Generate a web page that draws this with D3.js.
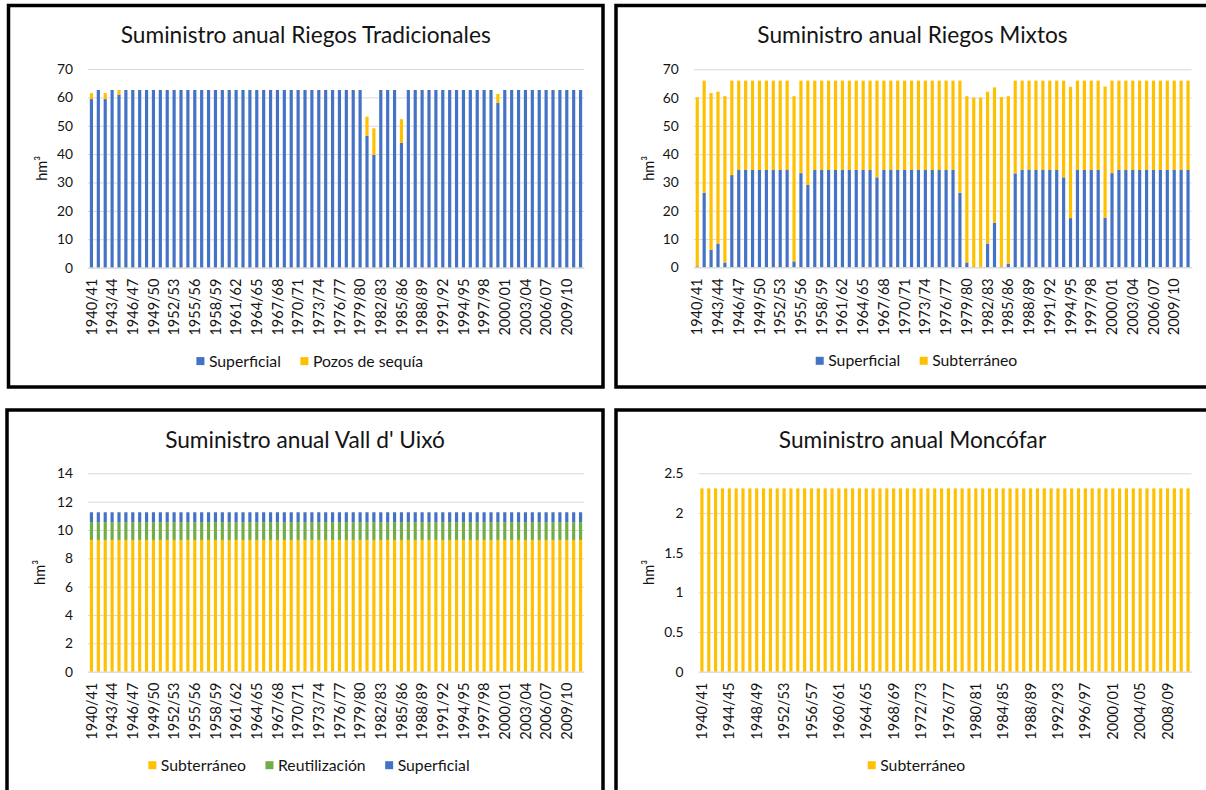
<!DOCTYPE html>
<html>
<head>
<meta charset="utf-8">
<script src="https://cdn.jsdelivr.net/npm/d3@7"></script>
<style>
  body { margin: 0; background: #fff; }
  svg { display: block; }
</style>
</head>
<body>
<svg id="chart" width="1206" height="790"></svg>
<script>
// Hydrological years shown on every chart
const years = [
  "1940/41","1941/42","1942/43","1943/44","1944/45","1945/46","1946/47","1947/48","1948/49","1949/50",
  "1950/51","1951/52","1952/53","1953/54","1954/55","1955/56","1956/57","1957/58","1958/59","1959/60",
  "1960/61","1961/62","1962/63","1963/64","1964/65","1965/66","1966/67","1967/68","1968/69","1969/70",
  "1970/71","1971/72","1972/73","1973/74","1974/75","1975/76","1976/77","1977/78","1978/79","1979/80",
  "1980/81","1981/82","1982/83","1983/84","1984/85","1985/86","1986/87","1987/88","1988/89","1989/90",
  "1990/91","1991/92","1992/93","1993/94","1994/95","1995/96","1996/97","1997/98","1998/99","1999/00",
  "2000/01","2001/02","2002/03","2003/04","2004/05","2005/06","2006/07","2007/08","2008/09","2009/10",
  "2010/11","2011/12"
];

// Riegos Tradicionales (hm3)
const tradSuperficial = [
  59.4, 62.6, 59.4, 62.6, 61.0, 62.6, 62.6, 62.6, 62.6, 62.6,
  62.6, 62.6, 62.6, 62.6, 62.6, 62.6, 62.6, 62.6, 62.6, 62.6,
  62.6, 62.6, 62.6, 62.6, 62.6, 62.6, 62.6, 62.6, 62.6, 62.6,
  62.6, 62.6, 62.6, 62.6, 62.6, 62.6, 62.6, 62.6, 62.6, 62.6,
  46.4, 39.7, 62.6, 62.6, 62.6, 44.0, 62.6, 62.6, 62.6, 62.6,
  62.6, 62.6, 62.6, 62.6, 62.6, 62.6, 62.6, 62.6, 62.6, 58.1,
  62.6, 62.6, 62.6, 62.6, 62.6, 62.6, 62.6, 62.6, 62.6, 62.6,
  62.6, 62.6
];
const tradPozos = [
  2.1, 0, 2.1, 0, 1.6, 0, 0, 0, 0, 0,
  0, 0, 0, 0, 0, 0, 0, 0, 0, 0,
  0, 0, 0, 0, 0, 0, 0, 0, 0, 0,
  0, 0, 0, 0, 0, 0, 0, 0, 0, 0,
  6.8, 9.4, 0, 0, 0, 8.3, 0, 0, 0, 0,
  0, 0, 0, 0, 0, 0, 0, 0, 0, 3.1,
  0, 0, 0, 0, 0, 0, 0, 0, 0, 0,
  0, 0
];

// Riegos Mixtos (hm3)
const mixtosSuperficial = [
  0.35, 26.3, 6.2, 8.4, 1.7, 32.6, 34.4, 34.4, 34.4, 34.4,
  34.4, 34.4, 34.4, 34.4, 2.1, 33.3, 29.1, 34.4, 34.4, 34.4,
  34.4, 34.4, 34.4, 34.4, 34.4, 34.4, 31.8, 34.4, 34.4, 34.4,
  34.4, 34.4, 34.4, 34.4, 34.4, 34.4, 34.4, 34.4, 26.3, 1.7,
  0, 0, 8.4, 15.8, 0.25, 1.3, 33.2, 34.4, 34.4, 34.4,
  34.4, 34.4, 34.4, 31.8, 17.4, 34.4, 34.4, 34.4, 34.4, 17.5,
  33.3, 34.4, 34.4, 34.4, 34.4, 34.4, 34.4, 34.4, 34.4, 34.4,
  34.4, 34.4
];
const mixtosSubterraneo = [
  59.75, 39.7, 55.4, 53.7, 58.8, 33.4, 31.6, 31.6, 31.6, 31.6,
  31.6, 31.6, 31.6, 31.6, 58.4, 32.7, 36.9, 31.6, 31.6, 31.6,
  31.6, 31.6, 31.6, 31.6, 31.6, 31.6, 34.2, 31.6, 31.6, 31.6,
  31.6, 31.6, 31.6, 31.6, 31.6, 31.6, 31.6, 31.6, 39.7, 58.8,
  60.0, 60.0, 53.7, 47.8, 59.95, 59.2, 32.8, 31.6, 31.6, 31.6,
  31.6, 31.6, 31.6, 34.2, 46.4, 31.6, 31.6, 31.6, 31.6, 46.4,
  32.7, 31.6, 31.6, 31.6, 31.6, 31.6, 31.6, 31.6, 31.6, 31.6,
  31.6, 31.6
];

// Vall d'Uixó (hm3)
const vallSubterraneo = [
  9.3, 9.3, 9.3, 9.3, 9.3, 9.3, 9.3, 9.3, 9.3, 9.3,
  9.3, 9.3, 9.3, 9.3, 9.3, 9.3, 9.3, 9.3, 9.3, 9.3,
  9.3, 9.3, 9.3, 9.3, 9.3, 9.3, 9.3, 9.3, 9.3, 9.3,
  9.3, 9.3, 9.3, 9.3, 9.3, 9.3, 9.3, 9.3, 9.3, 9.3,
  9.3, 9.3, 9.3, 9.3, 9.3, 9.3, 9.3, 9.3, 9.3, 9.3,
  9.3, 9.3, 9.3, 9.3, 9.3, 9.3, 9.3, 9.3, 9.3, 9.3,
  9.3, 9.3, 9.3, 9.3, 9.3, 9.3, 9.3, 9.3, 9.3, 9.3,
  9.3, 9.3
];
const vallReutilizacion = [
  1.25, 1.25, 1.25, 1.25, 1.25, 1.25, 1.25, 1.25, 1.25, 1.25,
  1.25, 1.25, 1.25, 1.25, 1.25, 1.25, 1.25, 1.25, 1.25, 1.25,
  1.25, 1.25, 1.25, 1.25, 1.25, 1.25, 1.25, 1.25, 1.25, 1.25,
  1.25, 1.25, 1.25, 1.25, 1.25, 1.25, 1.25, 1.25, 1.25, 1.25,
  1.25, 1.25, 1.25, 1.25, 1.25, 1.25, 1.25, 1.25, 1.25, 1.25,
  1.25, 1.25, 1.25, 1.25, 1.25, 1.25, 1.25, 1.25, 1.25, 1.25,
  1.25, 1.25, 1.25, 1.25, 1.25, 1.25, 1.25, 1.25, 1.25, 1.25,
  1.25, 1.25
];
const vallSuperficial = [
  0.7, 0.7, 0.7, 0.7, 0.7, 0.7, 0.7, 0.7, 0.7, 0.7,
  0.7, 0.7, 0.7, 0.7, 0.7, 0.7, 0.7, 0.7, 0.7, 0.7,
  0.7, 0.7, 0.7, 0.7, 0.7, 0.7, 0.7, 0.7, 0.7, 0.7,
  0.7, 0.7, 0.7, 0.7, 0.7, 0.7, 0.7, 0.7, 0.7, 0.7,
  0.7, 0.7, 0.7, 0.7, 0.7, 0.7, 0.7, 0.7, 0.7, 0.7,
  0.7, 0.7, 0.7, 0.7, 0.7, 0.7, 0.7, 0.7, 0.7, 0.7,
  0.7, 0.7, 0.7, 0.7, 0.7, 0.7, 0.7, 0.7, 0.7, 0.7,
  0.7, 0.7
];

// Moncófar (hm3)
const moncofarSubterraneo = [
  2.31, 2.31, 2.31, 2.31, 2.31, 2.31, 2.31, 2.31, 2.31, 2.31,
  2.31, 2.31, 2.31, 2.31, 2.31, 2.31, 2.31, 2.31, 2.31, 2.31,
  2.31, 2.31, 2.31, 2.31, 2.31, 2.31, 2.31, 2.31, 2.31, 2.31,
  2.31, 2.31, 2.31, 2.31, 2.31, 2.31, 2.31, 2.31, 2.31, 2.31,
  2.31, 2.31, 2.31, 2.31, 2.31, 2.31, 2.31, 2.31, 2.31, 2.31,
  2.31, 2.31, 2.31, 2.31, 2.31, 2.31, 2.31, 2.31, 2.31, 2.31,
  2.31, 2.31, 2.31, 2.31, 2.31, 2.31, 2.31, 2.31, 2.31, 2.31,
  2.31, 2.31
];

// Value-axis tick labels
const ticksTradicionales = [0, 10, 20, 30, 40, 50, 60, 70];
const ticksMixtos = [0, 10, 20, 30, 40, 50, 60, 70];
const ticksVall = [0, 2, 4, 6, 8, 10, 12, 14];
const ticksMoncofar = [0, 0.5, 1, 1.5, 2, 2.5];

const BLUE = "#4472C4", YELLOW = "#FFC000", GREEN = "#70AD47";
const FONT = "Lato, 'Open Sans', sans-serif";
const TEXT = "#141414";

const svg = d3.select("#chart");

// Font size that makes a sample string span a given width
function fitSize(sample, width) {
  const t = svg.append("text").attr("font-family", FONT).attr("font-size", 100).text(sample);
  const w = t.node().getComputedTextLength();
  t.remove();
  return 100 * width / w;
}
const titleSize = fitSize("Suministro anual Riegos Tradicionales", 370);
const legendSize = fitSize("Superficial", 72);
const catSize = fitSize("1940/41", 57);
const valSize = fitSize("70", 16);
const unitSize = fitSize("hm³", 25);

function drawPanel(cfg) {
  const g = svg.append("g");
  const cx = (cfg.box.x0 + cfg.box.x1) / 2;

  // frame
  g.append("rect")
    .attr("x", cfg.box.x0).attr("y", cfg.box.y0)
    .attr("width", cfg.box.x1 - cfg.box.x0).attr("height", cfg.box.y1 - cfg.box.y0)
    .attr("fill", "#fff").attr("stroke", "#000").attr("stroke-width", 3.5);

  // title
  g.append("text")
    .attr("x", cx).attr("y", cfg.box.y0 + 37.5)
    .attr("text-anchor", "middle")
    .attr("font-family", FONT).attr("font-size", titleSize).attr("fill", TEXT)
    .text(cfg.title);

  const x = d3.scaleBand().domain(years)
    .range([cfg.plot.left, cfg.plot.right])
    .paddingInner(0.54).paddingOuter(0.27);
  const y = d3.scaleLinear().domain([0, cfg.ticks[cfg.ticks.length - 1]])
    .range([cfg.plot.bottom, cfg.plot.top]);
  const w = cfg.plot.right - cfg.plot.left;

  // value axis with gridlines
  const yAxis = g.append("g")
    .attr("transform", `translate(${cfg.plot.left},0)`)
    .call(d3.axisLeft(y).tickValues(cfg.ticks).tickSize(-w).tickPadding(15)
      .tickFormat(d => String(d)));
  yAxis.select(".domain").remove();
  yAxis.selectAll(".tick line").attr("stroke", "#d9d9d9").attr("stroke-width", 1);
  yAxis.selectAll(".tick text")
    .attr("font-family", FONT).attr("font-size", valSize).attr("fill", TEXT);

  // stacked bars
  const rows = years.map((yr, i) => {
    const r = { year: yr };
    cfg.series.forEach(s => { r[s.name] = s.values[i]; });
    return r;
  });
  const stack = d3.stack().keys(cfg.series.map(s => s.name))(rows);
  stack.forEach((layer, k) => {
    g.append("g").attr("fill", cfg.series[k].color)
      .selectAll("rect").data(layer).join("rect")
      .attr("x", d => x(d.data.year))
      .attr("width", x.bandwidth())
      .attr("y", d => y(d[1]))
      .attr("height", d => Math.max(0, y(d[0]) - y(d[1])));
  });

  // category axis
  const xAxis = g.append("g")
    .attr("transform", `translate(0,${cfg.plot.bottom})`)
    .call(d3.axisBottom(x)
      .tickValues(years.filter((d, i) => i % cfg.labelStep === 0))
      .tickSize(0).tickSizeOuter(0));
  xAxis.select(".domain").attr("stroke", "#d9d9d9");
  xAxis.selectAll(".tick text")
    .attr("font-family", FONT).attr("font-size", catSize).attr("fill", TEXT)
    .attr("transform", "rotate(-90)")
    .attr("x", -11).attr("y", 0).attr("dy", "0.35em")
    .style("text-anchor", "end");

  // unit label
  const uy = (cfg.plot.top + cfg.plot.bottom) / 2;
  g.append("text")
    .attr("transform", `translate(${cfg.box.x0 + 33},${uy}) rotate(-90)`)
    .attr("text-anchor", "middle").attr("dy", "0.35em")
    .attr("font-family", FONT).attr("font-size", unitSize).attr("fill", TEXT)
    .text("hm³");

  // legend
  const ly = cfg.plot.bottom + 93.5;
  const leg = g.append("g");
  let lx = 0;
  cfg.legend.forEach((item, i) => {
    if (i > 0) lx += 19.5;
    leg.append("rect").attr("x", lx).attr("y", ly - 4).attr("width", 8).attr("height", 8)
      .attr("fill", item.color);
    lx += 12.5;
    const t = leg.append("text").attr("x", lx).attr("y", ly).attr("dy", "0.35em")
      .attr("font-family", FONT).attr("font-size", legendSize).attr("fill", TEXT)
      .text(item.name);
    lx += t.node().getComputedTextLength();
  });
  leg.attr("transform", `translate(${cx + 4 - lx / 2},0)`);
}

drawPanel({
  title: "Suministro anual Riegos Tradicionales",
  box: { x0: 8.5, y0: 5.5, x1: 603, y1: 387 },
  plot: { left: 88, right: 584, top: 69, bottom: 267.6 },
  ticks: ticksTradicionales,
  labelStep: 3,
  series: [
    { name: "Superficial", values: tradSuperficial, color: BLUE },
    { name: "Pozos de sequía", values: tradPozos, color: YELLOW }
  ],
  legend: [
    { name: "Superficial", color: BLUE },
    { name: "Pozos de sequía", color: YELLOW }
  ]
});

drawPanel({
  title: "Suministro anual Riegos Mixtos",
  box: { x0: 616, y0: 5.5, x1: 1209, y1: 387 },
  plot: { left: 693.8, right: 1191.5, top: 69.3, bottom: 267.3 },
  ticks: ticksMixtos,
  labelStep: 3,
  series: [
    { name: "Superficial", values: mixtosSuperficial, color: BLUE },
    { name: "Subterráneo", values: mixtosSubterraneo, color: YELLOW }
  ],
  legend: [
    { name: "Superficial", color: BLUE },
    { name: "Subterráneo", color: YELLOW }
  ]
});

drawPanel({
  title: "Suministro anual Vall d' Uixó",
  box: { x0: 7, y0: 410, x1: 603, y1: 792 },
  plot: { left: 88, right: 584, top: 473.3, bottom: 671.7 },
  ticks: ticksVall,
  labelStep: 3,
  series: [
    { name: "Subterráneo", values: vallSubterraneo, color: YELLOW },
    { name: "Reutilización", values: vallReutilizacion, color: GREEN },
    { name: "Superficial", values: vallSuperficial, color: BLUE }
  ],
  legend: [
    { name: "Subterráneo", color: YELLOW },
    { name: "Reutilización", color: GREEN },
    { name: "Superficial", color: BLUE }
  ]
});

drawPanel({
  title: "Suministro anual Moncófar",
  box: { x0: 616, y0: 410, x1: 1209, y1: 792 },
  plot: { left: 698.5, right: 1191.5, top: 473.3, bottom: 671.7 },
  ticks: ticksMoncofar,
  labelStep: 4,
  series: [
    { name: "Subterráneo", values: moncofarSubterraneo, color: YELLOW }
  ],
  legend: [
    { name: "Subterráneo", color: YELLOW }
  ]
});
</script>
</body>
</html>
